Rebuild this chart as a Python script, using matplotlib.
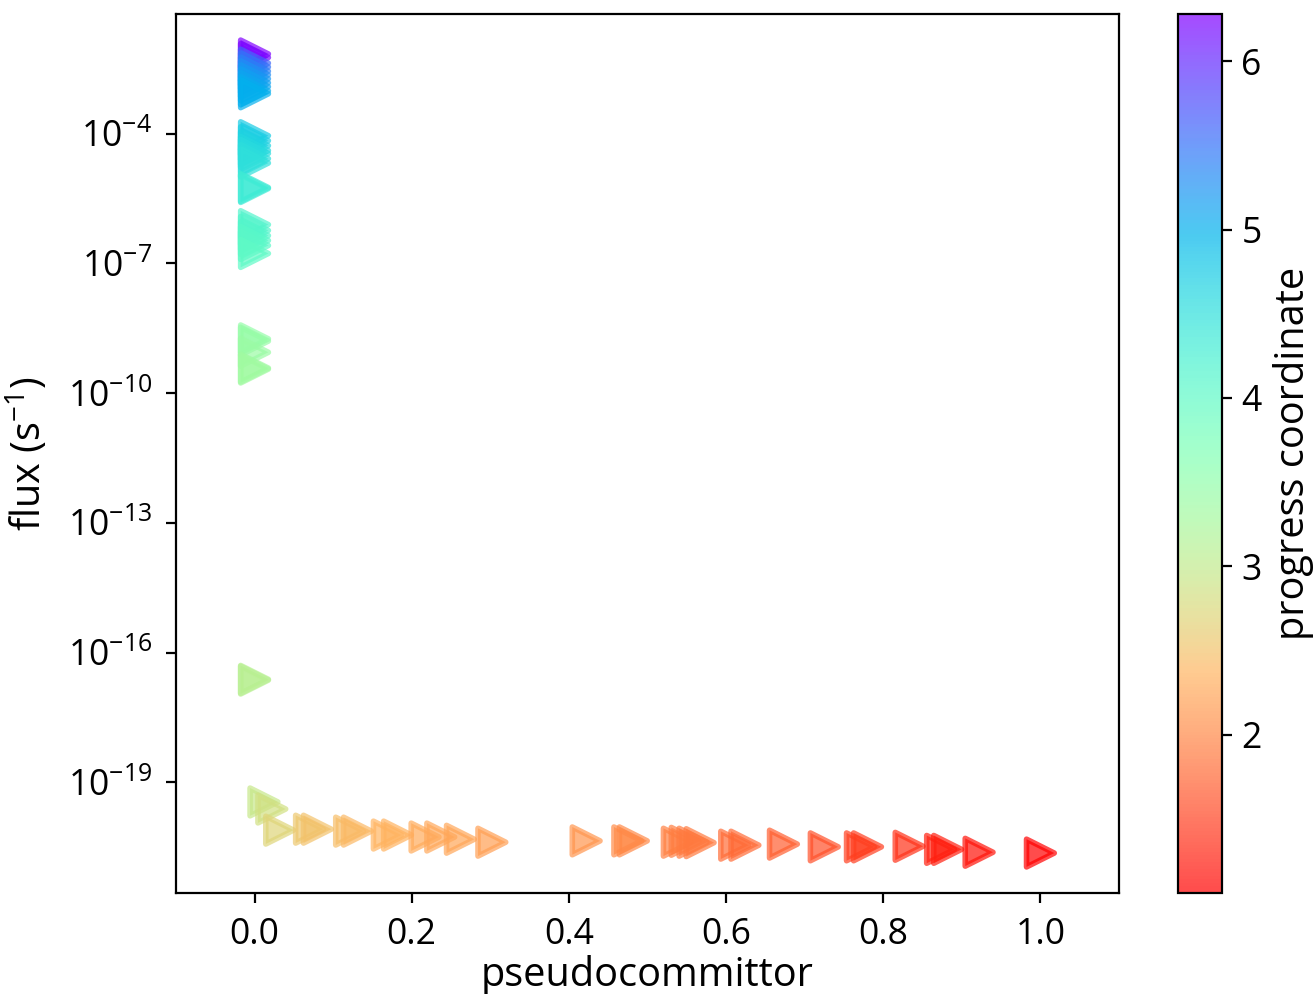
import numpy as np
import matplotlib
matplotlib.use("Agg")
import matplotlib.pyplot as plt

plt.rcParams['font.family'] = ['Open Sans', 'DejaVu Sans']
plt.rcParams['mathtext.fontset'] = 'custom'
plt.rcParams['mathtext.rm'] = 'Open Sans'
plt.rcParams['mathtext.it'] = 'Open Sans:italic'
plt.rcParams['mathtext.bf'] = 'Open Sans:bold'

# points stuck at pseudocommittor 0 (upper left column)
left_flux = [7.0e-3, 5.8e-3,
             4.3e-3, 3.5e-3, 2.8e-3, 2.3e-3, 1.86e-3, 1.5e-3, 1.22e-3,
             9.8e-4, 8.4e-4,
             9.0e-5, 6.9e-5, 5.3e-5, 4.1e-5, 3.5e-5, 2.65e-5, 2.1e-5,
             5.7e-6, 5.4e-6,
             7.9e-7, 5.8e-7, 4.4e-7, 3.4e-7, 2.6e-7, 1.7e-7,
             1.8e-9, 1.6e-9, 8.8e-10, 3.8e-10, 3.6e-10,
             2.4e-17, 2.3e-17]
left_prog = [6.28, 6.2,
             5.6, 5.5, 5.4, 5.3, 5.2, 5.15, 5.1,
             5.05, 5.0,
             4.75, 4.7, 4.65, 4.6, 4.55, 4.52, 4.5,
             4.35, 4.33,
             4.15, 4.12, 4.1, 4.07, 4.05, 4.0,
             3.45, 3.43, 3.4, 3.35, 3.33,
             3.1, 3.08]
left_pc = [0.0] * len(left_flux)

# bottom chain
low_pc = [0.012, 0.022, 0.032, 0.07, 0.08, 0.121, 0.131, 0.169, 0.182,
          0.217, 0.237, 0.262, 0.302, 0.422, 0.475, 0.482,
          0.538, 0.548, 0.558, 0.567, 0.611, 0.624, 0.673, 0.725,
          0.771, 0.780, 0.833, 0.873, 0.882, 0.922, 1.0]
low_flux = [3.5e-20, 2.4e-20, 7.8e-21, 8.2e-21, 8.2e-21, 7.4e-21, 7.4e-21,
            6.0e-21, 6.0e-21, 5.4e-21, 5.4e-21, 4.8e-21, 4.1e-21,
            4.4e-21, 4.4e-21, 4.4e-21,
            4.1e-21, 4.3e-21, 4.1e-21, 4.0e-21, 3.5e-21, 3.5e-21,
            3.7e-21, 3.2e-21, 3.2e-21, 3.2e-21, 3.3e-21, 2.8e-21,
            2.8e-21, 2.4e-21, 2.3e-21]
low_prog = [2.95, 2.85, 2.7, 2.55, 2.5, 2.45, 2.42, 2.38, 2.35,
            2.3, 2.28, 2.25, 2.2, 2.1, 2.02, 2.0,
            1.95, 1.93, 1.9, 1.88, 1.8, 1.78, 1.7, 1.6,
            1.5, 1.48, 1.4, 1.3, 1.28, 1.2, 1.06]

pc = np.array(left_pc + low_pc)
flux = np.array(left_flux + low_flux)
prog = np.array(left_prog + low_prog)

fig = plt.figure(figsize=(6.58, 4.97), dpi=200)
ax = fig.add_axes([0.1337, 0.1016, 0.7166, 0.8843])
cax = fig.add_axes([0.8951, 0.1016, 0.0334, 0.8843])

sc = ax.scatter(pc, flux, c=prog, cmap='rainbow_r', marker='>', s=100,
                linewidths=2, alpha=0.7)
ax.set_yscale('log')
ax.set_xlim(-0.1, 1.1)
ax.set_xlabel('pseudocommittor', fontsize=14.3, labelpad=1)
ax.set_ylabel('flux (s$^{-1}$)', fontsize=14.3, labelpad=6)
ax.tick_params(labelsize=12.8, pad=5)

cb = fig.colorbar(sc, cax=cax)
cb.set_label('progress coordinate', fontsize=14.3)
cb.ax.tick_params(labelsize=12.8)

fig.savefig('out.png', dpi=200)
